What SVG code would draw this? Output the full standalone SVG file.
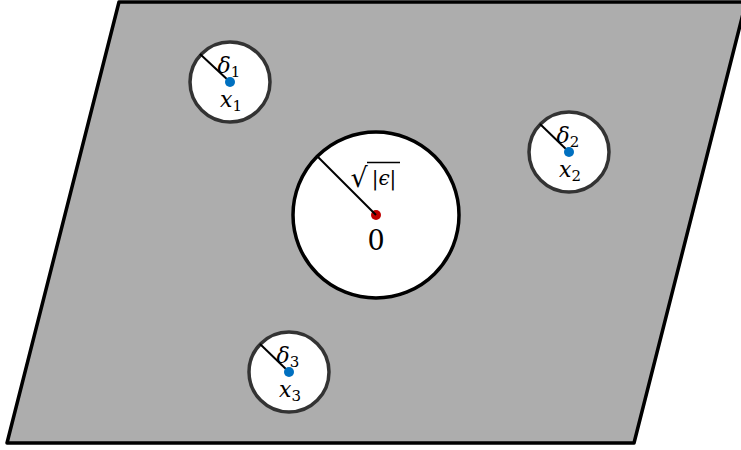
<svg xmlns="http://www.w3.org/2000/svg" width="741" height="450" viewBox="0 0 741 450">
<style>
.small{fill:#fff;stroke:#333;stroke-width:3.5}
.rad{stroke:#000;stroke-width:2}
.pt{fill:#0070c0}
text{font-family:"DejaVu Serif","Liberation Serif",serif;fill:#000;text-anchor:middle}
.m{font-style:italic;font-size:22px}
.sub{font-style:normal;font-size:15px}
</style>
<rect width="741" height="450" fill="#fff"/>
<g id="plane"><polygon points="119,2 746,2 634,443 7,443" fill="#adadad" stroke="#000" stroke-width="3.5" stroke-linejoin="round"/></g>
<g id="origin">
<circle cx="376" cy="215" r="83" fill="#fff" stroke="#000" stroke-width="3.5"/>
<circle cx="376" cy="215" r="5" fill="#c00000"/>
<text x="359" y="187" font-size="27">√</text>
<line x1="367" y1="162.5" x2="400" y2="162.5" stroke="#000" stroke-width="1.3"/>
<text x="384" y="185" font-size="20">|<tspan font-style="italic">ϵ</tspan>|</text>
<text x="376" y="250" font-size="27">0</text>
</g>
<g id="x1">
<circle class="small" cx="230" cy="82" r="40"/>
<line class="rad" x1="200" y1="54" x2="230" y2="82"/>
<circle class="pt" cx="230" cy="82" r="5"/>
<text class="m" x="229" y="73">δ<tspan class="sub" dy="4">1</tspan></text>
<text class="m" x="231" y="107">x<tspan class="sub" dy="4">1</tspan></text>
</g>
<g id="x2">
<circle class="small" cx="569" cy="152" r="40"/>
<line class="rad" x1="540" y1="124" x2="569" y2="152"/>
<circle class="pt" cx="569" cy="152" r="5"/>
<text class="m" x="568" y="143">δ<tspan class="sub" dy="4">2</tspan></text>
<text class="m" x="570" y="177">x<tspan class="sub" dy="4">2</tspan></text>
</g>
<g id="x3">
<circle class="small" cx="289" cy="372" r="40"/>
<line class="rad" x1="260" y1="344" x2="289" y2="372"/>
<circle class="pt" cx="289" cy="372" r="5"/>
<text class="m" x="288" y="363">δ<tspan class="sub" dy="4">3</tspan></text>
<text class="m" x="290" y="397">x<tspan class="sub" dy="4">3</tspan></text>
</g>
<g id="connectors">
<line class="rad" x1="318" y1="157" x2="376" y2="215"/>
</g>
</svg>
